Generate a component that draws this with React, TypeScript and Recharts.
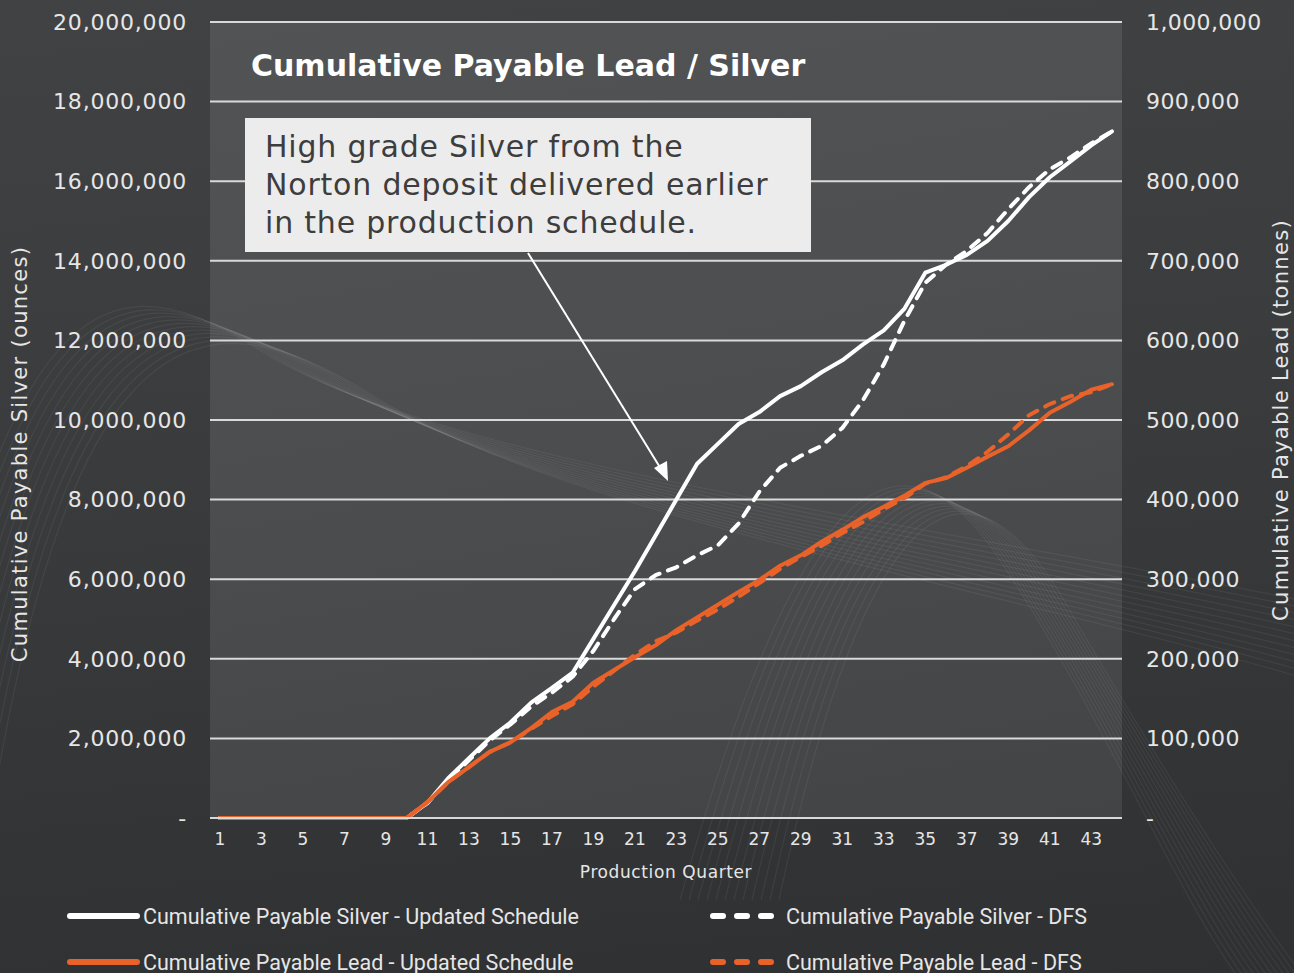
import { LineChart, Line, XAxis, YAxis, CartesianGrid } from "recharts";

const quarters = [
  1, 2, 3, 4, 5, 6, 7, 8, 9, 10, 11, 12, 13, 14, 15, 16, 17, 18, 19, 20, 21, 22,
  23, 24, 25, 26, 27, 28, 29, 30, 31, 32, 33, 34, 35, 36, 37, 38, 39, 40, 41, 42, 43, 44,
];

// silver, millions of ounces
const silverUpdated = [
  0, 0, 0, 0, 0, 0, 0, 0, 0, 0, 0.38, 1.0, 1.5, 2.0, 2.4, 2.9, 3.27, 3.65, 4.5, 5.35, 6.2, 7.1,
  8.0, 8.9, 9.4, 9.9, 10.2, 10.6, 10.85, 11.2, 11.5, 11.9, 12.25, 12.8, 13.7, 13.9, 14.15, 14.5,
  15.0, 15.6, 16.1, 16.5, 16.9, 17.25,
];
const silverDFS = [
  0, 0, 0, 0, 0, 0, 0, 0, 0, 0, 0.38, 0.95, 1.45, 1.95, 2.35, 2.8, 3.15, 3.55, 4.2, 5.0, 5.75, 6.1,
  6.3, 6.6, 6.85, 7.4, 8.2, 8.8, 9.1, 9.35, 9.8, 10.5, 11.4, 12.5, 13.45, 13.9, 14.25, 14.7, 15.3,
  15.85, 16.3, 16.6, 16.95, 17.25,
];

// lead, thousands of tonnes
const leadUpdated = [
  0, 0, 0, 0, 0, 0, 0, 0, 0, 0, 20, 45, 64, 83, 95, 113, 133, 146, 170, 186, 202, 217, 236, 252,
  268, 284, 299, 317, 330, 347, 362, 378, 391, 405, 421, 427, 440, 454, 467, 487, 509, 523, 538, 545,
];
const leadDFS = [
  0, 0, 0, 0, 0, 0, 0, 0, 0, 0, 20, 45, 64, 83, 95, 112, 128, 143, 165, 185, 205, 222, 233, 248,
  262, 278, 295, 313, 328, 342, 358, 372, 388, 402, 420, 428, 442, 460, 482, 506, 520, 530, 535, 545,
];

const silverTicks = [0, 2e6, 4e6, 6e6, 8e6, 10e6, 12e6, 14e6, 16e6, 18e6, 20e6];
const leadTicks = [0, 1e5, 2e5, 3e5, 4e5, 5e5, 6e5, 7e5, 8e5, 9e5, 1e6];

const data = quarters.map((q, i) => ({
  q,
  silverUpd: silverUpdated[i] * 1e6,
  silverDfs: silverDFS[i] * 1e6,
  leadUpd: leadUpdated[i] * 1e3,
  leadDfs: leadDFS[i] * 1e3,
}));

const FONT = "'DejaVu Sans', sans-serif";
const WHITE = "#ffffff";
const ORANGE = "#e8622a";
const TEXT = "#e6e6e6";

const fmt = (v: number) => (v === 0 ? "-" : v.toLocaleString("en-US"));

// background decoration (thin wave bundles)
const waveOffsets = [0, 1, 2, 3, 4, 5, 6, 7, 8, 9, 10, 11];

const LeftLabel = (props: any) => {
  const vb = props.viewBox;
  const x = 20;
  const y = vb.y + vb.height / 2 + 34;
  return (
    <text
      x={x}
      y={y}
      transform={`rotate(-90, ${x}, ${y})`}
      textAnchor="middle"
      dominantBaseline="central"
      fill={TEXT}
      fontSize={21}
      fontFamily={FONT}
      letterSpacing={1.3}
    >
      Cumulative Payable Silver (ounces)
    </text>
  );
};

const RightLabel = (props: any) => {
  const vb = props.viewBox;
  const x = 1281;
  const y = vb.y + vb.height / 2;
  return (
    <text
      x={x}
      y={y}
      transform={`rotate(-90, ${x}, ${y})`}
      textAnchor="middle"
      dominantBaseline="central"
      fill={TEXT}
      fontSize={21}
      fontFamily={FONT}
      letterSpacing={1.3}
    >
      Cumulative Payable Lead (tonnes)
    </text>
  );
};

const legendItems = [
  { label: "Cumulative Payable Silver - Updated Schedule", color: WHITE, dashed: false, left: 67, top: 916 },
  { label: "Cumulative Payable Silver - DFS", color: WHITE, dashed: true, left: 710, top: 916 },
  { label: "Cumulative Payable Lead - Updated Schedule", color: ORANGE, dashed: false, left: 67, top: 962 },
  { label: "Cumulative Payable Lead - DFS", color: ORANGE, dashed: true, left: 710, top: 962 },
];

export default function App() {
  return (
    <div
      style={{
        position: "fixed",
        left: 0,
        top: 0,
        width: 1294,
        height: 973,
        overflow: "hidden",
        background: "linear-gradient(175deg, #414243 0%, #3a3b3c 45%, #2f3031 100%)",
        fontFamily: FONT,
      }}
    >
      <div
        style={{
          position: "absolute",
          left: 210,
          top: 22,
          width: 912,
          height: 796,
          background: "linear-gradient(170deg, #525354 0%, #4d4e4f 45%, #434445 100%)",
        }}
      />
      <svg style={{ position: "absolute", left: 0, top: 0 }} width={1294} height={973}>
        {waveOffsets.map((k) => (
          <path
            key={"a" + k}
            d={`M ${-120 + k * 8} 980 C ${-20 + k * 6} ${300 + k * 3}, ${90 + k * 8} ${240 + k * 3}, ${
              260 + k * 10
            } ${350 + k * 4} S ${900 + k * 8} ${520 + k * 6}, 1300 ${600 + k * 7}`}
            fill="none"
            stroke="#ffffff"
            strokeOpacity={0.06}
            strokeWidth={1.2}
          />
        ))}
        {waveOffsets.map((k) => (
          <path
            key={"b" + k}
            d={`M ${680 + k * 9} 900 C ${800 + k * 6} ${470 + k * 2}, ${900 + k * 6} ${410 + k * 2}, ${
              1000 + k * 6
            } ${560 + k * 4} S ${1180 + k * 6} ${900}, ${1240 + k * 6} 980`}
            fill="none"
            stroke="#ffffff"
            strokeOpacity={0.06}
            strokeWidth={1.2}
          />
        ))}
      </svg>
      <div style={{ position: "absolute", left: 0, top: 0 }}>
        <LineChart width={1294} height={973} data={data} margin={{ top: 22, right: 0, bottom: 89, left: 0 }}>
          <CartesianGrid yAxisId="left" vertical={false} stroke="#d9d9d9" strokeWidth={2} />
          <XAxis
            dataKey="q"
            interval={1}
            padding={{ left: 10, right: 10 }}
            tickSize={0}
            tickMargin={15}
            height={66}
            axisLine={{ stroke: "#d9d9d9", strokeWidth: 2 }}
            tick={{ fill: TEXT, fontSize: 17, fontFamily: FONT }}
            label={{
              value: "Production Quarter",
              position: "insideBottom",
              offset: 6,
              fill: TEXT,
              fontSize: 17,
              fontFamily: FONT,
              letterSpacing: 0.6,
            }}
          />
          <YAxis
            yAxisId="left"
            width={210}
            domain={[0, 20e6]}
            ticks={silverTicks}
            tickFormatter={fmt}
            tickSize={0}
            tickMargin={23}
            axisLine={false}
            tick={{ fill: TEXT, fontSize: 22, fontFamily: FONT, letterSpacing: 0.8 }}
            label={<LeftLabel />}
          />
          <YAxis
            yAxisId="right"
            orientation="right"
            width={172}
            domain={[0, 1e6]}
            ticks={leadTicks}
            tickFormatter={fmt}
            tickSize={0}
            tickMargin={24}
            axisLine={false}
            tick={{ fill: TEXT, fontSize: 22, fontFamily: FONT, letterSpacing: 0.4 }}
            label={<RightLabel />}
          />
          <Line
            yAxisId="left"
            dataKey="silverUpd"
            stroke={WHITE}
            strokeWidth={4}
            dot={false}
            strokeLinecap="round"
            strokeLinejoin="round"
            isAnimationActive={false}
          />
          <Line
            yAxisId="left"
            dataKey="silverDfs"
            stroke={WHITE}
            strokeWidth={4}
            strokeDasharray="10 9"
            dot={false}
            strokeLinecap="round"
            strokeLinejoin="round"
            isAnimationActive={false}
          />
          <Line
            yAxisId="right"
            dataKey="leadUpd"
            stroke={ORANGE}
            strokeWidth={4}
            dot={false}
            strokeLinecap="round"
            strokeLinejoin="round"
            isAnimationActive={false}
          />
          <Line
            yAxisId="right"
            dataKey="leadDfs"
            stroke={ORANGE}
            strokeWidth={4}
            strokeDasharray="10 9"
            dot={false}
            strokeLinecap="round"
            strokeLinejoin="round"
            isAnimationActive={false}
          />
        </LineChart>
      </div>

      <div
        style={{
          position: "absolute",
          left: 251,
          top: 51,
          color: "#ffffff",
          fontWeight: 700,
          fontSize: 30,
          lineHeight: "30px",
          whiteSpace: "nowrap",
        }}
      >
        Cumulative Payable Lead / Silver
      </div>

      <div
        style={{
          position: "absolute",
          left: 245,
          top: 118,
          width: 566,
          height: 134,
          background: "#ececec",
          color: "#3d3d3d",
          fontSize: 30,
          letterSpacing: 0.8,
          lineHeight: "38px",
          padding: "10px 0 0 20px",
          boxSizing: "border-box",
          whiteSpace: "nowrap",
        }}
      >
        High grade Silver from the
        <br />
        Norton deposit delivered earlier
        <br />
        in the production schedule.
      </div>

      <svg style={{ position: "absolute", left: 0, top: 0 }} width={1294} height={973}>
        <line x1={528} y1={253} x2={661} y2={469} stroke="#ffffff" strokeWidth={2} />
        <polygon points="668,481 654,468 667,461" fill="#ffffff" />
      </svg>

      {legendItems.map((it) => (
        <div
          key={it.label}
          style={{
            position: "absolute",
            left: it.left,
            top: it.top - 13,
            height: 26,
            display: "flex",
            alignItems: "center",
            whiteSpace: "nowrap",
          }}
        >
          <svg width={76} height={26}>
            <line
              x1={3}
              y1={13}
              x2={it.dashed ? 66 : 70}
              y2={13}
              stroke={it.color}
              strokeWidth={6}
              strokeLinecap="round"
              strokeDasharray={it.dashed ? "10 14" : undefined}
            />
          </svg>
          <span
            style={{
              color: TEXT,
              fontFamily: "'Liberation Sans Narrow', 'Roboto', sans-serif",
              fontSize: 21.5,
            }}
          >
            {it.label}
          </span>
        </div>
      ))}
    </div>
  );
}
